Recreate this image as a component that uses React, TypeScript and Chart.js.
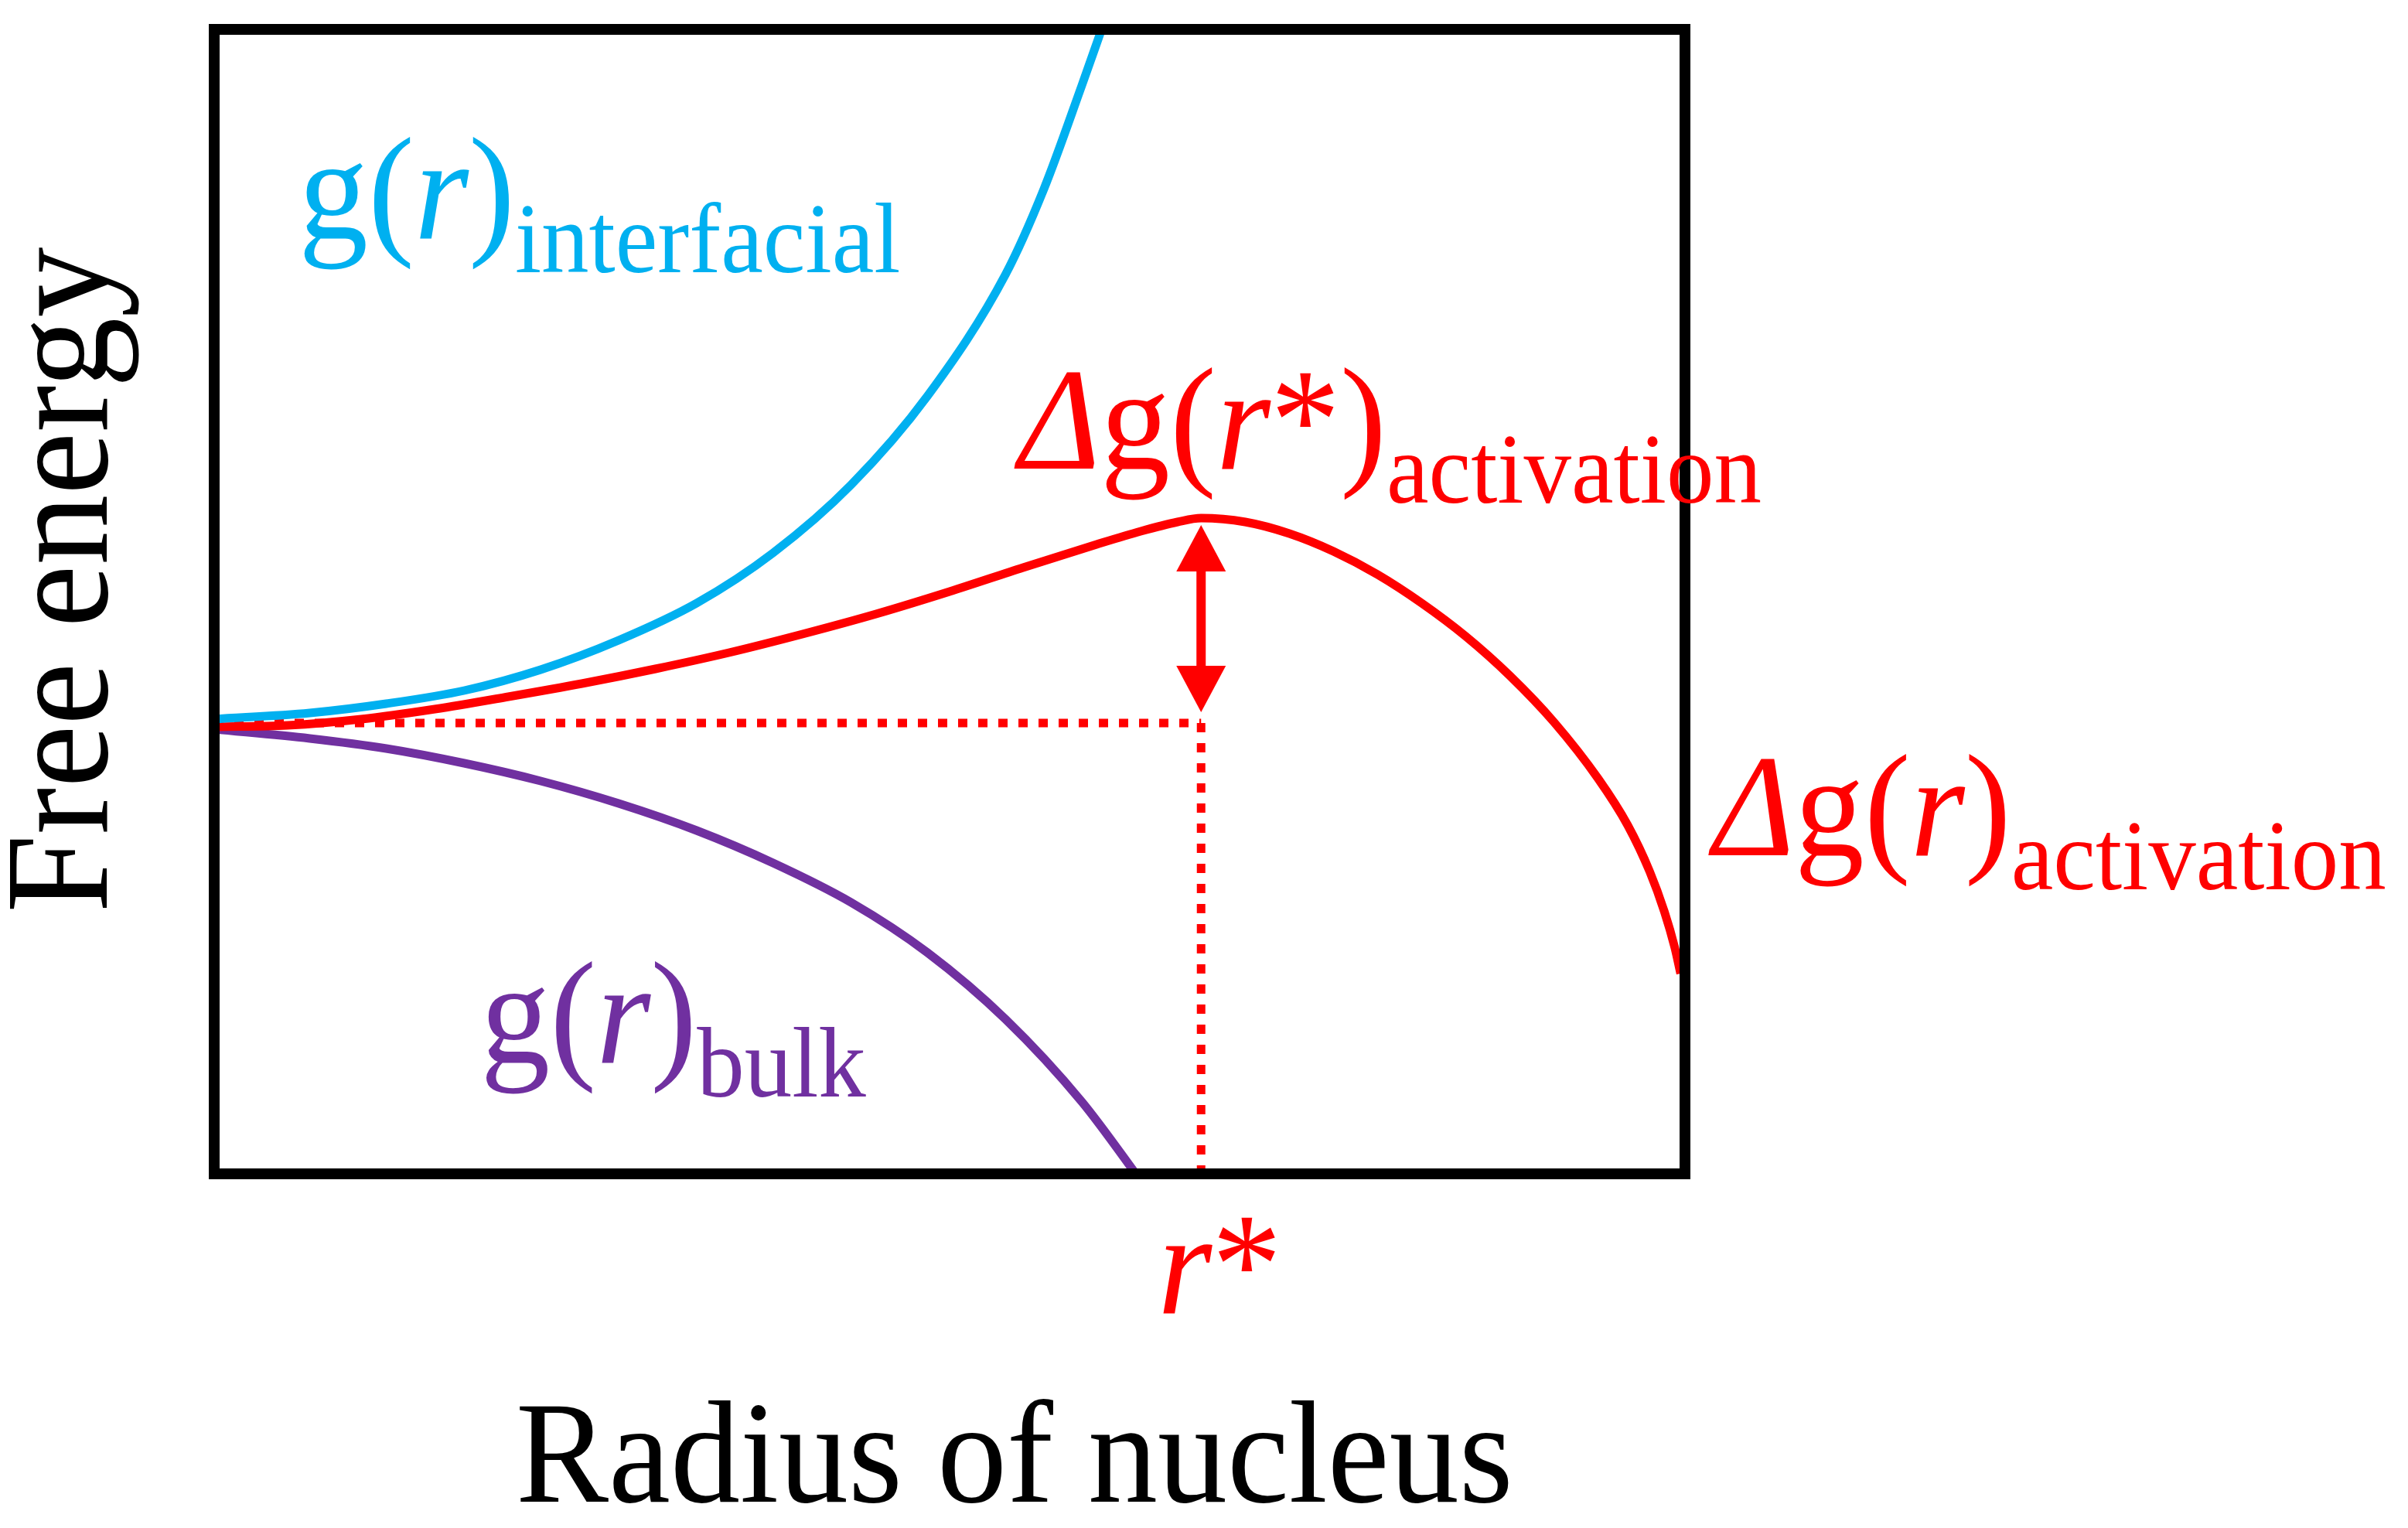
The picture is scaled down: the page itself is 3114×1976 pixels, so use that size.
import { useEffect, useRef } from "react";
import Chart from "chart.js/auto";

// Radius of nucleus (arbitrary units, 0..10) and free energy (0 = starting level)
const interfacialR = [0, 0.65, 1.17, 1.7, 2.22, 2.75, 3.28, 3.8, 4.33, 4.85, 5.38, 5.64, 5.9, 6.03];
const interfacialG = [0.05, 0.13, 0.25, 0.42, 0.69, 1.07, 1.55, 2.2, 3.08, 4.23, 5.8, 6.9, 8.25, 8.95];

const activationR = [
  0, 0.5, 1.0, 1.5, 2.0, 2.5, 3.0, 3.5, 4.0, 4.5, 5.0, 5.5, 6.0, 6.3, 6.55, 6.71,
  7.01, 7.31, 7.61, 7.91, 8.21, 8.51, 8.81, 9.11, 9.41, 9.61, 9.76, 9.86, 9.93, 9.97,
];
const activationG = [
  -0.05, -0.03, 0.05, 0.18, 0.34, 0.51, 0.7, 0.91, 1.15, 1.41, 1.7, 2.01, 2.31, 2.48, 2.6, 2.65,
  2.6, 2.45, 2.22, 1.92, 1.55, 1.12, 0.61, 0.01, -0.72, -1.32, -1.92, -2.44, -2.9, -3.24,
];

const bulkR = [0, 0.65, 1.17, 1.7, 2.22, 2.75, 3.28, 3.8, 4.33, 4.85, 5.38, 5.9, 6.32];
const bulkG = [-0.08, -0.2, -0.33, -0.52, -0.75, -1.04, -1.39, -1.81, -2.32, -2.97, -3.83, -4.9, -5.97];

const rStar = 6.71;
const arrowSpan = [0.14, 2.56];

const xRange = [0, 10];
const yRange = [-5.83, 8.97];

const BLUE = "#00B0F0";
const RED = "#FF0000";
const PURPLE = "#7030A0";

const FONT = '"Liberation Serif", "Times New Roman", serif';
const MAIN = 180;
const SUB = 123;
const SUB_DROP = 44;
const STRETCH = 1.05;

type Seg = { text: string; italic?: boolean; sub?: boolean };

const curveLabels: { color: string; x: number; y: number; segs: Seg[] }[] = [
  {
    color: BLUE,
    x: 0.573,
    y: 6.27,
    segs: [{ text: "g(" }, { text: "r", italic: true }, { text: ")" }, { text: "interfacial", sub: true }],
  },
  {
    color: RED,
    x: 5.47,
    y: 3.29,
    segs: [
      { text: "\u0394", italic: true },
      { text: "g(" },
      { text: "r", italic: true },
      { text: "*)" },
      { text: "activation", sub: true },
    ],
  },
  {
    color: RED,
    x: 10.19,
    y: -1.71,
    segs: [
      { text: "\u0394", italic: true },
      { text: "g(" },
      { text: "r", italic: true },
      { text: ")" },
      { text: "activation", sub: true },
    ],
  },
  {
    color: PURPLE,
    x: 1.81,
    y: -4.39,
    segs: [{ text: "g(" }, { text: "r", italic: true }, { text: ")" }, { text: "bulk", sub: true }],
  },
];

const toPoints = (xs: number[], ys: number[]) => xs.map((x, i) => ({ x, y: ys[i] }));

function drawRich(ctx: CanvasRenderingContext2D, segs: Seg[], x: number, baseline: number, color: string) {
  let cx = x;
  for (const s of segs) {
    const size = s.sub ? SUB : MAIN;
    ctx.font = `${s.italic ? "italic " : ""}${size}px ${FONT}`;
    ctx.save();
    ctx.translate(cx, baseline + (s.sub ? SUB_DROP : 0));
    ctx.scale(1, STRETCH);
    ctx.fillStyle = color;
    ctx.textAlign = "left";
    ctx.textBaseline = "alphabetic";
    ctx.fillText(s.text, 0, 0);
    ctx.restore();
    cx += ctx.measureText(s.text).width;
  }
}

const annotations = {
  id: "annotations",
  afterDatasetsDraw(chart: any) {
    const { ctx, chartArea, scales } = chart;
    const xs = scales.x;
    const ys = scales.y;

    // double arrow for the activation barrier
    const ax = xs.getPixelForValue(rStar);
    const yLow = ys.getPixelForValue(arrowSpan[0]);
    const yHigh = ys.getPixelForValue(arrowSpan[1]);
    const headLen = 60;
    const headHalf = 32;
    ctx.save();
    ctx.strokeStyle = RED;
    ctx.fillStyle = RED;
    ctx.lineWidth = 12;
    ctx.beginPath();
    ctx.moveTo(ax, yHigh + headLen - 2);
    ctx.lineTo(ax, yLow - headLen + 2);
    ctx.stroke();
    ctx.beginPath();
    ctx.moveTo(ax, yHigh);
    ctx.lineTo(ax - headHalf, yHigh + headLen);
    ctx.lineTo(ax + headHalf, yHigh + headLen);
    ctx.closePath();
    ctx.fill();
    ctx.beginPath();
    ctx.moveTo(ax, yLow);
    ctx.lineTo(ax - headHalf, yLow - headLen);
    ctx.lineTo(ax + headHalf, yLow - headLen);
    ctx.closePath();
    ctx.fill();
    ctx.restore();

    // frame
    ctx.save();
    ctx.strokeStyle = "#000";
    ctx.lineWidth = 14;
    ctx.strokeRect(chartArea.left, chartArea.top, chartArea.right - chartArea.left, chartArea.bottom - chartArea.top);
    ctx.restore();

    // curve labels
    for (const l of curveLabels) {
      drawRich(ctx, l.segs, xs.getPixelForValue(l.x), ys.getPixelForValue(l.y), l.color);
    }

    // r* under the axis
    drawRich(ctx, [{ text: "r", italic: true }, { text: "*" }], ax - 56, chartArea.bottom + 180, RED);

    // axis titles
    ctx.save();
    ctx.fillStyle = "#000";
    ctx.font = `${MAIN}px ${FONT}`;
    ctx.textBaseline = "alphabetic";
    ctx.textAlign = "left";
    ctx.translate(chartArea.left + 390, chartArea.bottom + 424);
    ctx.scale(1, STRETCH);
    ctx.fillText("Radius of nucleus", 0, 0);
    ctx.restore();

    ctx.save();
    ctx.fillStyle = "#000";
    ctx.font = `182px ${FONT}`;
    ctx.textBaseline = "alphabetic";
    ctx.textAlign = "center";
    ctx.translate(chartArea.left - 139, 750);
    ctx.rotate(-Math.PI / 2);
    ctx.scale(1, STRETCH);
    ctx.fillText("Free energy", 0, 0);
    ctx.restore();
  },
};

export default function App() {
  const canvasRef = useRef<HTMLCanvasElement | null>(null);
  const chartRef = useRef<Chart | null>(null);

  useEffect(() => {
    if (!canvasRef.current) return;
    if (chartRef.current) chartRef.current.destroy();

    const line = { pointRadius: 0, borderWidth: 11, fill: false, cubicInterpolationMode: "monotone" as const };
    const guide = { pointRadius: 0, borderWidth: 11, fill: false, borderColor: RED, borderDash: [12, 14] };

    chartRef.current = new Chart(canvasRef.current, {
      type: "line",
      data: {
        datasets: [
          { label: "g(r) interfacial", data: toPoints(interfacialR, interfacialG), borderColor: BLUE, ...line },
          { label: "Δg(r) activation", data: toPoints(activationR, activationG), borderColor: RED, ...line },
          { label: "g(r) bulk", data: toPoints(bulkR, bulkG), borderColor: PURPLE, ...line },
          { label: "level", data: [{ x: xRange[0], y: 0 }, { x: rStar, y: 0 }], ...guide },
          { label: "r*", data: [{ x: rStar, y: 0 }, { x: rStar, y: yRange[0] }], ...guide },
        ],
      },
      options: {
        animation: false,
        responsive: true,
        maintainAspectRatio: false,
        events: [],
        layout: { padding: { left: 277, top: 38, right: 935, bottom: 458 } },
        plugins: { legend: { display: false }, tooltip: { enabled: false } },
        scales: {
          x: { type: "linear", min: xRange[0], max: xRange[1], display: false },
          y: { type: "linear", min: yRange[0], max: yRange[1], display: false },
        },
      },
      plugins: [annotations],
    });

    return () => {
      if (chartRef.current) {
        chartRef.current.destroy();
        chartRef.current = null;
      }
    };
  }, []);

  return (
    <div style={{ position: "fixed", left: 0, top: 0, width: "3114px", height: "1976px", background: "#fff" }}>
      <canvas ref={canvasRef} />
    </div>
  );
}
